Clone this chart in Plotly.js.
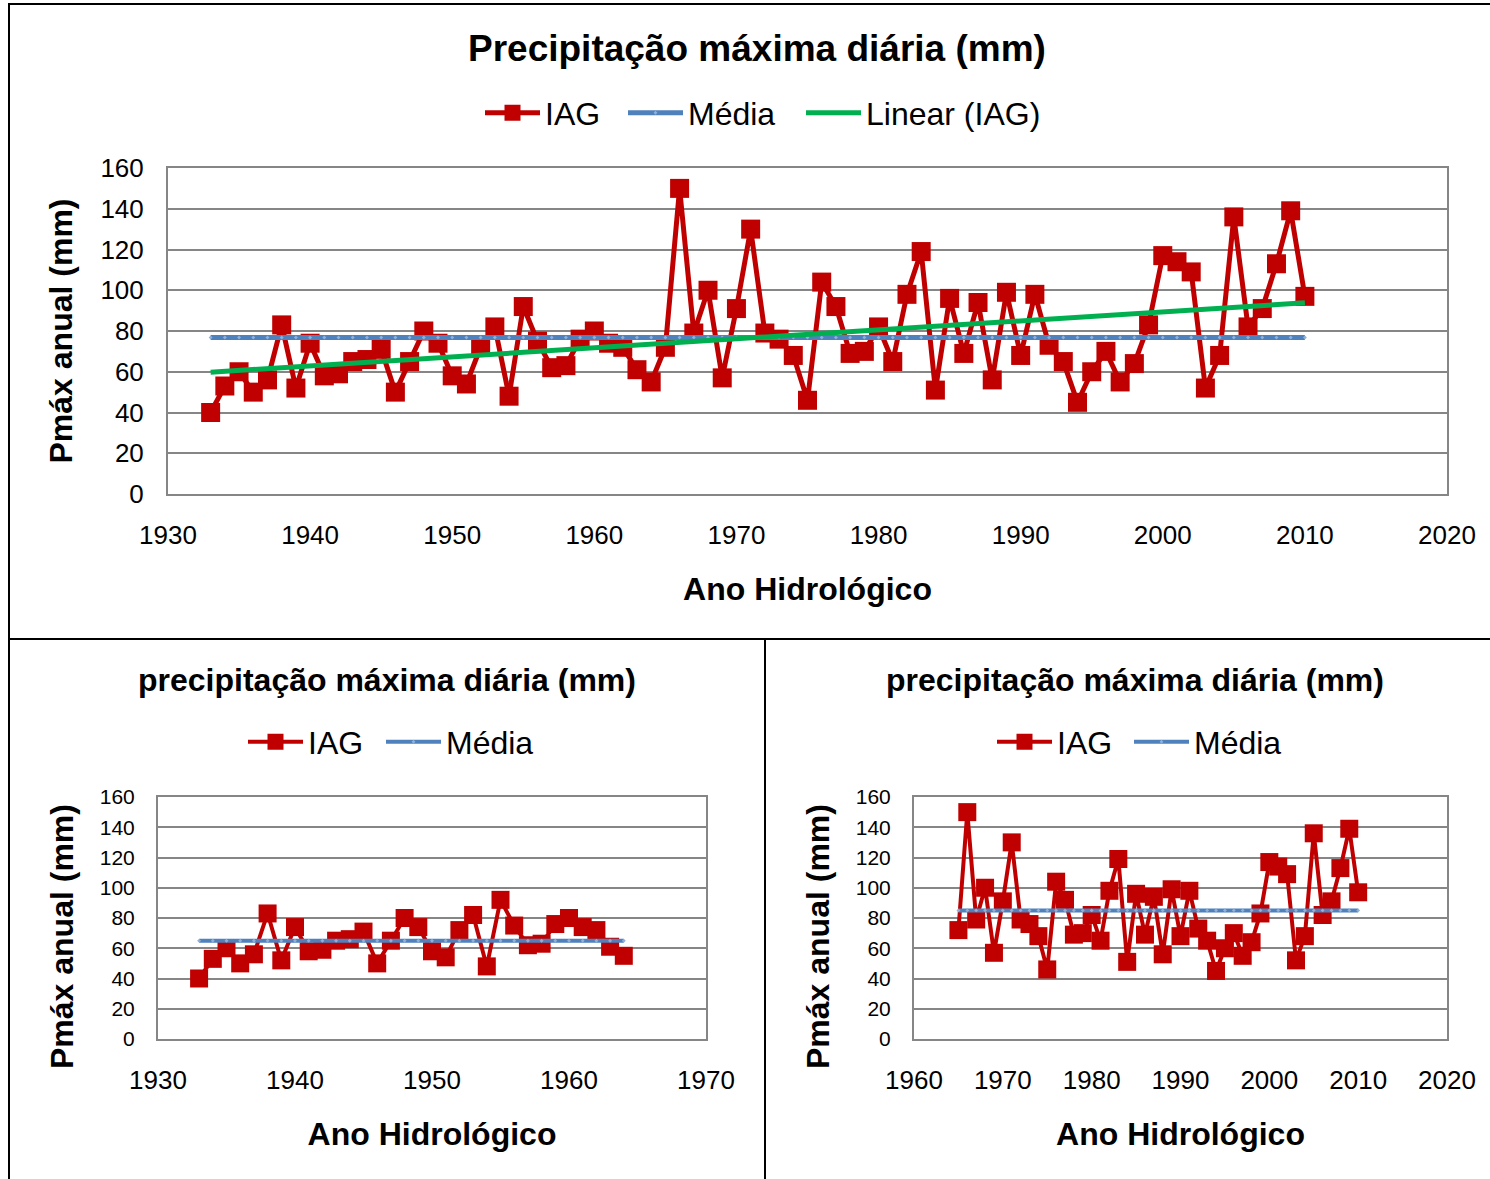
<!DOCTYPE html>
<html>
<head>
<meta charset="utf-8">
<script src="https://cdn.plot.ly/plotly-3.0.1.min.js"></script>
<style>
html,body{margin:0;padding:0;background:#fff;}
#chart{width:1490px;height:1179px;}
</style>
</head>
<body>
<div id="chart"></div>
<script>
// ---- Data ----
const years = [1933,1934,1935,1936,1937,1938,1939,1940,1941,1942,1943,1944,1945,1946,1947,1948,1949,1950,
  1951,1952,1953,1954,1955,1956,1957,1958,1959,1960,1961,1962,1963,1964,1965,1966,1967,1968,1969,1970,
  1971,1972,1973,1974,1975,1976,1977,1978,1979,1980,1981,1982,1983,1984,1985,1986,1987,1988,1989,1990,
  1991,1992,1993,1994,1995,1996,1997,1998,1999,2000,2001,2002,2003,2004,2005,2006,2007,2008,2009,2010];
const iag = [40,53,60,50,56,83,52,74,58,59,65,66,71,50,65,80,74,58,
  54,72,82,48,92,75,62,63,76,80,74,72,61,55,72,150,79,100,57,91,
  130,79,76,68,46,104,92,69,70,82,65,98,119,51,96,69,94,56,99,68,
  98,73,65,45,60,70,55,64,83,117,114,109,52,68,136,82,91,113,139,97];
const splitYear = 1965; // bottom charts: before / from this year
const mainTitle = 'Precipitação máxima diária (mm)';
const subTitle = 'precipitação máxima diária (mm)';
const xTitle = 'Ano Hidrológico';
const yTitle = 'Pmáx anual (mm)';
const yTicks = [0,20,40,60,80,100,120,140,160];

// ---- Derived series ----
function mean(a){return a.reduce((s,v)=>s+v,0)/a.length;}
const y1 = [], v1 = [], y2 = [], v2 = [];
years.forEach((y,i)=>{ if(y<splitYear){y1.push(y);v1.push(iag[i]);} else {y2.push(y);v2.push(iag[i]);} });
const mAll = mean(iag), m1 = mean(v1), m2 = mean(v2);
// least squares trend
const mx = mean(years);
let sxy=0, sxx=0;
years.forEach((x,i)=>{sxy+=(x-mx)*(iag[i]-mAll); sxx+=(x-mx)*(x-mx);});
const slope = sxy/sxx, icpt = mAll - slope*mx;
const trend = years.map(x=>icpt+slope*x);

const RED='#C00000', BLUE='#4F81BD', GREEN='#00B050';
const FONT='Arial, "Liberation Sans", sans-serif';

function iagTrace(x,y,xa,ya,leg,msize,lw){
  return {x:x,y:y,xaxis:xa,yaxis:ya,name:'IAG',type:'scatter',mode:'lines+markers',legend:leg,
    line:{color:RED,width:lw},marker:{symbol:'square',size:msize,color:RED}};
}
function meanTrace(x,val,xa,ya,leg,lw){
  return {x:x,y:x.map(()=>val),xaxis:xa,yaxis:ya,name:'Média',type:'scatter',mode:'lines+markers',legend:leg,
    line:{color:BLUE,width:lw},marker:{symbol:'diamond',size:3,color:'#8FB0D8'}};
}

const data = [
  iagTrace(years,iag,'x','y','legend',19,5),
  meanTrace(years,mAll,'x','y','legend4',5),
  {x:years,y:trend,xaxis:'x',yaxis:'y',name:'Linear (IAG)',type:'scatter',mode:'lines',legend:'legend5',
    line:{color:GREEN,width:5}},
  iagTrace(y1,v1,'x2','y2','legend2',18,4),
  meanTrace(y1,m1,'x2','y2','legend6',4),
  iagTrace(y2,v2,'x3','y3','legend3',18,4),
  meanTrace(y2,m2,'x3','y3','legend7',4)
];

const W=1490,H=1179;
const px=v=>v/W, py=v=>1-v/H;

function xax(dom,range,dtick,anchor){
  return {domain:[px(dom[0]),px(dom[1])],range:range,dtick:dtick,tick0:range[0],anchor:anchor,
    showgrid:false,zeroline:false,showline:true,mirror:true,linecolor:'#868686',linewidth:2,ticks:'',
    tickfont:{family:FONT,size:26,color:'#000'},ticklabelstandoff:17,automargin:false,
    title:{text:xTitle,font:{family:FONT,size:32,color:'#000',weight:'bold'},standoff:28}};
}
function yax(dom,anchor,fs,withTitle){
  const a = {domain:[py(dom[1]),py(dom[0])],range:[0,160],dtick:20,tick0:0,anchor:anchor,
    showgrid:true,gridcolor:'#868686',gridwidth:2,zeroline:false,showline:true,mirror:true,
    linecolor:'#868686',linewidth:2,ticks:'',tickvals:yTicks,
    tickfont:{family:FONT,size:fs,color:'#000'},ticklabelstandoff:17,automargin:false};
  if(withTitle) a.title={text:yTitle,font:{family:FONT,size:32,color:'#000',weight:'bold'},standoff:18};
  return a;
}

const legFont={family:FONT,size:32,color:'#000'};
// one legend per entry, placed at the start of its line sample
function leg(xs,yc){
  return {x:px(xs-5),y:py(yc),xanchor:'left',yanchor:'middle',orientation:'h',font:legFont,
    bgcolor:'rgba(0,0,0,0)',itemwidth:55,traceorder:'normal',itemclick:false,itemdoubleclick:false};
}

const layout = {
  width:W,height:H,margin:{l:0,r:0,t:0,b:0},paper_bgcolor:'#fff',plot_bgcolor:'#fff',
  font:{family:FONT,color:'#000'},showlegend:true,
  xaxis:xax([168,1447],[1930,2020],10,'y'),
  yaxis:yax([168,494],'x',26,true),
  xaxis2:xax([158,706],[1930,1970],10,'y2'),
  yaxis2:yax([797,1039],'x2',21,false),
  xaxis3:xax([914,1447],[1960,2020],10,'y3'),
  yaxis3:yax([797,1039],'x3',21,false),
  legend:leg(485,113),
  legend4:leg(628,113),
  legend5:leg(806,113),
  legend2:leg(248,742),
  legend6:leg(386,742),
  legend3:leg(997,742),
  legend7:leg(1134,742),
  annotations:[
    {text:'<b>'+mainTitle+'</b>',xref:'paper',yref:'paper',x:px(757),y:py(48),xanchor:'center',yanchor:'middle',
      showarrow:false,font:{family:FONT,size:37,color:'#000'}},
    {text:'<b>'+subTitle+'</b>',xref:'paper',yref:'paper',x:px(387),y:py(680),xanchor:'center',yanchor:'middle',
      showarrow:false,font:{family:FONT,size:32,color:'#000'}},
    {text:'<b>'+subTitle+'</b>',xref:'paper',yref:'paper',x:px(1135),y:py(680),xanchor:'center',yanchor:'middle',
      showarrow:false,font:{family:FONT,size:32,color:'#000'}},
    {text:'<b>'+yTitle+'</b>',xref:'paper',yref:'paper',x:px(62),y:py(937),xanchor:'center',yanchor:'middle',
      textangle:-90,showarrow:false,font:{family:FONT,size:32,color:'#000'}},
    {text:'<b>'+yTitle+'</b>',xref:'paper',yref:'paper',x:px(818),y:py(937),xanchor:'center',yanchor:'middle',
      textangle:-90,showarrow:false,font:{family:FONT,size:32,color:'#000'}}
  ],
  shapes:[
    {type:'line',xref:'paper',yref:'paper',x0:px(8),x1:1,y0:py(4),y1:py(4),line:{color:'#000',width:2}},
    {type:'line',xref:'paper',yref:'paper',x0:px(9),x1:px(9),y0:py(4),y1:0,line:{color:'#000',width:2}},
    {type:'line',xref:'paper',yref:'paper',x0:px(8),x1:1,y0:py(639),y1:py(639),line:{color:'#000',width:2}},
    {type:'line',xref:'paper',yref:'paper',x0:px(765),x1:px(765),y0:py(639),y1:0,line:{color:'#000',width:2}}
  ]
};

Plotly.newPlot('chart',data,layout,{staticPlot:true,displayModeBar:false});
</script>
</body>
</html>
